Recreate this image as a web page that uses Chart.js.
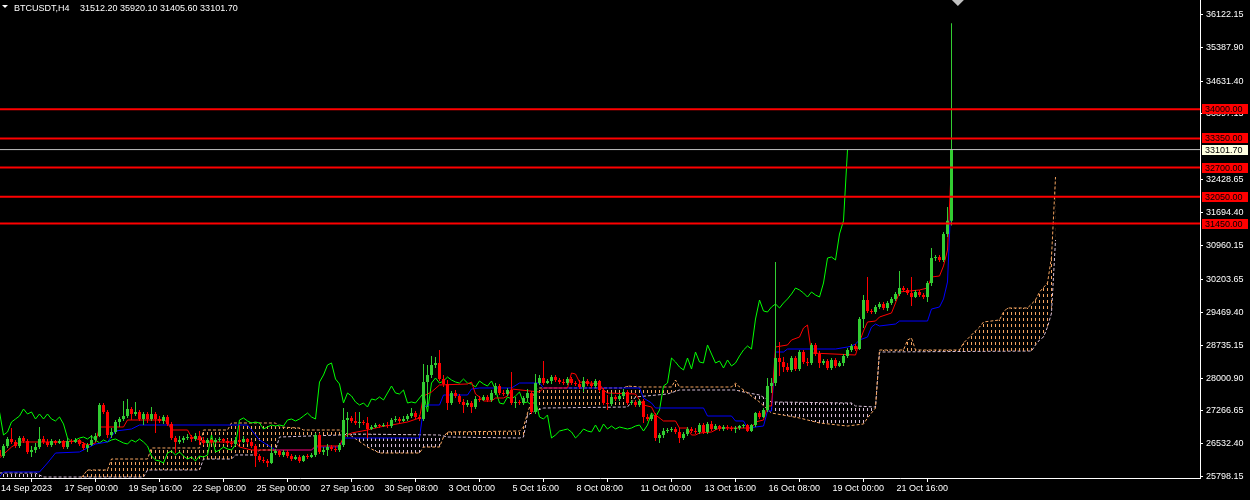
<!DOCTYPE html>
<html>
<head>
<meta charset="utf-8">
<title>BTCUSDT,H4</title>
<script src="https://cdn.jsdelivr.net/npm/chart.js@4.4.1/dist/chart.umd.min.js"></script>
<style>
  html, body { margin: 0; padding: 0; background: #000; }
  #wrap { width: 1250px; height: 500px; }
</style>
</head>
<body>
<div id="wrap"><canvas id="chart" width="1250" height="500"></canvas></div>
<script>
// BTCUSDT H4, 14 Sep -> 24 Oct 2023.
// bar 0 = 14 Sep 08:00, one bar every 4 hours, bar 238 = last (open) bar
const symbol = 'BTCUSDT,H4';

const opens = [
  26394, 26260, 26484, 26640, 26573, 26484, 26662, 26595, 26350, 26394,
  26461, 26640, 26573, 26506, 26595, 26551, 26595, 26461, 26595, 26573,
  26618, 26528, 26439, 26506, 26618, 26707, 27399, 27243, 26729, 26796,
  27019, 27086, 27153, 27310, 27198, 27243, 27086, 27198, 27086, 27198,
  27086, 27042, 27131, 26975, 26662, 26573, 26618, 26662, 26684, 26640,
  26707, 26618, 26551, 26618, 26573, 26618, 26640, 26595, 26551, 26528,
  26618, 26573, 26640, 26573, 26484, 26260, 26171, 26149, 26104, 26327,
  26372, 26283, 26350, 26260, 26193, 26238, 26149, 26260, 26238, 26283,
  26729, 26350, 26394, 26461, 26417, 26394, 26506, 27064, 27109, 27042,
  26997, 27019, 26997, 26863, 26908, 26952, 26930, 26952, 26930, 27064,
  27086, 27042, 27086, 27153, 27220, 27131, 27086, 27912, 28069, 28292,
  28337, 27979, 27868, 27444, 27667, 27600, 27466, 27399, 27444, 27354,
  27533, 27511, 27578, 27511, 27667, 27823, 27667, 27645, 27734, 27444,
  27466, 27444, 27555, 27667, 27243, 27890, 28002, 27890, 27935, 28024,
  27957, 27912, 27890, 27979, 27890, 27868, 27801, 27935, 27868, 27823,
  27935, 27734, 27444, 27421, 27578, 27533, 27600, 27689, 27444, 27466,
  27399, 27488, 27131, 27086, 27176, 26662, 26729, 26818, 26841, 26863,
  26796, 26662, 26751, 26863, 26818, 26796, 26952, 26796, 26975, 26863,
  26930, 26863, 26908, 26885, 26863, 26885, 26930, 26952, 26818, 26952,
  27220, 27131, 27287, 27823, 27890, 28448, 28359, 28247, 28180, 28448,
  28203, 28582, 28359, 28337, 28739, 28537, 28337, 28381, 28225, 28404,
  28270, 28337, 28493, 28627, 28716, 28649, 29319, 29743, 29498, 29475,
  29587, 29654, 29565, 29676, 29766, 29877, 30011, 29967, 29900, 29810,
  29922, 29855, 29810, 30123, 30681, 30703, 30636, 31217, 31512.20
];
const highs = [
  26439, 26528, 26684, 26885, 26618, 26707, 26707, 26640, 26484, 26551,
  26908, 26707, 26640, 26640, 26618, 26640, 26618, 26662, 26640, 26662,
  26640, 26573, 26551, 26729, 26774, 27444, 27444, 27287, 26885, 27064,
  27131, 27488, 27533, 27354, 27466, 27287, 27243, 27243, 27354, 27243,
  27153, 27176, 27176, 27019, 26707, 26707, 26707, 26751, 26729, 26774,
  26818, 26684, 26662, 26640, 26662, 26684, 26662, 26640, 26595, 26684,
  26952, 26707, 26662, 26618, 26528, 26305, 26238, 26193, 26461, 26417,
  26394, 26394, 26394, 26305, 26283, 26283, 26283, 26305, 26327, 26774,
  26774, 26461, 26528, 26506, 26484, 26551, 27332, 27243, 27153, 27243,
  27243, 27064, 27131, 26952, 26997, 26975, 26997, 27019, 27109, 27153,
  27131, 27153, 27198, 27332, 27265, 27176, 28314, 28292, 28493, 28470,
  28627, 28069, 27957, 27712, 27734, 27645, 27533, 27511, 27488, 27600,
  27600, 27622, 27622, 27734, 27890, 27868, 27734, 27779, 28136, 27578,
  27511, 27600, 27756, 27712, 28091, 28069, 28381, 27979, 28069, 28069,
  28002, 27979, 28024, 28024, 27935, 27957, 28024, 27979, 27935, 27979,
  27957, 27779, 27622, 27667, 27622, 27645, 27756, 27734, 27511, 27511,
  27533, 27533, 27198, 27220, 27220, 26774, 26885, 26885, 26908, 26908,
  26885, 26796, 26908, 26908, 26885, 26997, 26997, 27019, 27042, 26975,
  26952, 26952, 26952, 26930, 26930, 26952, 26975, 26975, 26975, 27243,
  27265, 27332, 28002, 28002, 30591, 28805, 28470, 28337, 28493, 28493,
  28627, 28627, 28448, 28783, 28783, 28604, 28426, 28426, 28448, 28448,
  28381, 28537, 28671, 28761, 28761, 29364, 29855, 30257, 29542, 29632,
  29698, 29698, 29721, 29810, 29922, 30391, 30056, 30011, 30257, 29967,
  29967, 29900, 30168, 30904, 30748, 30748, 31262, 31820, 35920.10
];
const lows = [
  26171, 26216, 26439, 26528, 26439, 26439, 26551, 26305, 26238, 26327,
  26417, 26528, 26461, 26461, 26506, 26528, 26417, 26417, 26528, 26551,
  26484, 26394, 26350, 26484, 26573, 26684, 27198, 26662, 26662, 26751,
  26908, 27042, 27109, 27064, 27153, 27042, 26952, 26997, 27042, 26774,
  26997, 26975, 26930, 26618, 26327, 26528, 26551, 26618, 26573, 26595,
  26506, 26506, 26528, 26528, 26528, 26573, 26551, 26506, 26484, 26484,
  26528, 26551, 26528, 26439, 26015, 26126, 26104, 26015, 26082, 26283,
  26238, 26238, 26216, 26149, 26171, 26104, 26126, 26193, 26216, 26238,
  26305, 26283, 26260, 26372, 26350, 26350, 26461, 26684, 26997, 26952,
  26885, 26952, 26662, 26841, 26885, 26885, 26908, 26885, 26885, 27019,
  26997, 27019, 27042, 27109, 27086, 27042, 27042, 27354, 28002, 28225,
  27935, 27801, 27287, 27399, 27555, 27421, 27220, 27354, 27220, 27310,
  27466, 27488, 27466, 27466, 27622, 27622, 27600, 27600, 27399, 27332,
  27399, 27399, 27466, 27198, 27198, 27846, 27846, 27868, 27868, 27912,
  27868, 27846, 27846, 27846, 27823, 27756, 27689, 27823, 27779, 27779,
  27689, 27399, 27287, 27377, 27488, 27488, 27555, 27399, 27399, 27354,
  27354, 26997, 27042, 27042, 26595, 26551, 26662, 26774, 26796, 26751,
  26551, 26618, 26707, 26774, 26751, 26751, 26751, 26751, 26818, 26841,
  26818, 26818, 26841, 26818, 26774, 26841, 26885, 26796, 26796, 26908,
  27086, 27109, 27243, 27667, 27823, 28046, 28136, 28136, 28136, 28158,
  28158, 28314, 28270, 28292, 28493, 28225, 28292, 28180, 28180, 28225,
  28247, 28270, 28448, 28582, 28604, 28627, 29118, 29453, 29431, 29431,
  29542, 29520, 29498, 29632, 29721, 29833, 29922, 29855, 29609, 29788,
  29810, 29766, 29698, 30056, 30614, 30591, 30591, 31150, 31405.60
];
const closes = [
  26260, 26484, 26640, 26573, 26484, 26662, 26595, 26350, 26394, 26461,
  26640, 26573, 26506, 26595, 26551, 26595, 26461, 26595, 26573, 26618,
  26528, 26439, 26506, 26618, 26707, 27399, 27243, 26729, 26796, 27019,
  27086, 27153, 27310, 27198, 27243, 27086, 27198, 27086, 27198, 27086,
  27042, 27131, 26975, 26662, 26573, 26618, 26662, 26684, 26640, 26707,
  26618, 26551, 26618, 26573, 26618, 26640, 26595, 26551, 26528, 26618,
  26573, 26640, 26573, 26484, 26260, 26171, 26149, 26104, 26327, 26372,
  26283, 26350, 26260, 26193, 26238, 26149, 26260, 26238, 26283, 26729,
  26350, 26394, 26461, 26417, 26394, 26506, 27064, 27109, 27042, 26997,
  27019, 26997, 26863, 26908, 26952, 26930, 26952, 26930, 27064, 27086,
  27042, 27086, 27153, 27220, 27131, 27086, 27912, 28069, 28292, 28337,
  27979, 27868, 27444, 27667, 27600, 27466, 27399, 27444, 27354, 27533,
  27511, 27578, 27511, 27667, 27823, 27667, 27645, 27734, 27444, 27466,
  27444, 27555, 27667, 27243, 27890, 28002, 27890, 27935, 28024, 27957,
  27912, 27890, 27979, 27890, 27868, 27801, 27935, 27868, 27823, 27935,
  27734, 27444, 27421, 27578, 27533, 27600, 27689, 27444, 27466, 27399,
  27488, 27131, 27086, 27176, 26662, 26729, 26818, 26841, 26863, 26796,
  26662, 26751, 26863, 26818, 26796, 26952, 26796, 26975, 26863, 26930,
  26863, 26908, 26885, 26863, 26885, 26930, 26952, 26818, 26952, 27220,
  27131, 27287, 27823, 27890, 28448, 28359, 28247, 28180, 28448, 28203,
  28582, 28359, 28337, 28739, 28537, 28337, 28381, 28225, 28404, 28270,
  28337, 28493, 28627, 28716, 28649, 29319, 29743, 29498, 29475, 29587,
  29654, 29565, 29676, 29766, 29877, 30011, 29967, 29900, 29810, 29922,
  29855, 29810, 30123, 30681, 30703, 30636, 31217, 31512, 33101.70
];

// Ichimoku lines: [bar, price] break points
const tenkan = [
  [0, 26216], [3, 26461], [5, 26573], [15, 26573], [20, 26595], [22, 26506], [24, 26551],
  [25, 26908], [31, 26908], [32, 27064], [41, 27064], [42, 27019], [43, 26841], [47, 26841],
  [48, 26684], [50, 26618], [51, 26573], [59, 26573], [60, 26461], [63, 26394], [78, 26394],
  [79, 26484], [85, 26484], [86, 26684], [88, 26774], [92, 26841], [95, 26908], [98, 26952],
  [102, 27019], [105, 27109], [106, 27600], [108, 27689], [110, 27846], [117, 27868],
  [118, 27912], [119, 27645], [120, 27578], [121, 27488], [123, 27488], [124, 27555],
  [126, 27555], [127, 27600], [128, 27756], [135, 27689], [136, 27779], [142, 27779],
  [143, 28113], [144, 28091], [145, 27912], [150, 27868], [151, 27734], [152, 27667],
  [159, 27645], [160, 27511], [161, 27399], [163, 27354], [164, 27176], [166, 27042],
  [169, 27042], [170, 26885], [172, 26885], [173, 26729], [174, 26729], [175, 26774],
  [178, 26796], [179, 26841], [180, 26885], [188, 26885], [189, 27019], [191, 27064],
  [192, 27377], [193, 27377], [194, 28694], [197, 28739], [198, 28850], [200, 28917],
  [201, 29118], [202, 29185], [203, 28560], [214, 28515], [215, 28805], [216, 29051],
  [217, 29252], [219, 29274], [220, 29364], [223, 29453], [224, 29676], [225, 29922],
  [230, 29967], [232, 30011], [233, 30257], [235, 30279], [236, 30503], [237, 30859],
  [238, 32824]
];
const kijun = [
  [0, 25791], [1, 25903], [10, 25903], [12, 26104], [14, 26327], [20, 26350], [22, 26439],
  [24, 26528], [27, 26573], [29, 26818], [33, 26863], [35, 26952], [62, 26952], [63, 26841],
  [65, 26618], [69, 26394], [78, 26394], [79, 26461], [85, 26461], [86, 26662], [105, 26662],
  [106, 27332], [107, 27399], [110, 27399], [111, 27622], [117, 27622], [118, 27756],
  [120, 27779], [128, 27779], [130, 27890], [135, 27890], [136, 27779], [160, 27779],
  [161, 27555], [163, 27444], [164, 27332], [176, 27332], [177, 27153], [183, 27153],
  [184, 27042], [186, 27042], [187, 26885], [191, 26930], [192, 27265], [193, 27265],
  [194, 28582], [196, 28582], [197, 28649], [209, 28649], [212, 28694], [213, 28716],
  [214, 28761], [215, 28850], [217, 28917], [218, 29140], [219, 29207], [220, 29163],
  [224, 29207], [225, 29274], [232, 29274], [233, 29542], [235, 29587], [236, 29766],
  [237, 30145], [238, 32266]
];
const senkouA = [
  [0, 25546], [16, 25546], [20, 25725], [22, 25948], [27, 25948], [28, 26193], [37, 26193],
  [38, 26439], [50, 26439], [51, 26841], [57, 26841], [58, 26997], [69, 26997], [70, 26908],
  [75, 26885], [76, 26841], [85, 26841], [88, 26707], [92, 26461], [95, 26327], [105, 26327],
  [106, 26461], [110, 26461], [111, 26684], [112, 26796], [130, 26818], [131, 26908],
  [132, 27220], [134, 27734], [135, 27779], [156, 27779], [157, 27823], [160, 27801],
  [168, 27801], [169, 27957], [170, 27801], [183, 27801], [184, 27890], [185, 27801],
  [190, 27466], [193, 27220], [200, 27109], [205, 26997], [212, 26930], [216, 26975],
  [217, 27109], [219, 27332], [220, 28627], [226, 28627], [227, 28850], [228, 28895],
  [229, 28627], [240, 28627], [241, 28783], [243, 28962], [245, 29140], [246, 29252],
  [250, 29297], [251, 29475], [252, 29565], [257, 29565], [259, 29743], [260, 29922],
  [262, 30123], [263, 30703], [264, 32489]
];
const senkouB = [
  [0, 25881], [9, 25881], [11, 25791], [36, 25791], [37, 25948], [50, 25948], [51, 26193],
  [58, 26193], [59, 26283], [64, 26283], [65, 26394], [69, 26394], [70, 26684], [85, 26729],
  [88, 26751], [110, 26729], [112, 26684], [130, 26662], [131, 26684], [132, 27176],
  [134, 27265], [136, 27332], [157, 27354], [159, 27578], [167, 27645], [170, 27734],
  [184, 27734], [186, 27689], [190, 27622], [193, 27466], [213, 27444], [214, 27377],
  [219, 27354], [220, 28582], [258, 28604], [259, 28739], [260, 28850], [261, 28917],
  [262, 29140], [263, 29453], [264, 31083]
];
const chikouShift = 26;

// horizontal levels drawn on the chart
const levels = [34000, 33350, 32700, 32050, 31450];

// axes
const yTicks = [36122.15, 35387.90, 34631.40, 33897.15, 32428.65, 31694.40, 30960.15,
  30203.65, 29469.40, 28735.15, 28000.90, 27266.65, 26532.40, 25798.15];
const firstLabel = '14 Sep 2023';
const xTickBars = [16, 32, 48, 64, 80, 96, 112, 128, 144, 160, 176, 192, 208, 224];
const xTickLabels = ['17 Sep 00:00', '19 Sep 16:00', '22 Sep 08:00', '25 Sep 00:00',
  '27 Sep 16:00', '30 Sep 08:00', '3 Oct 00:00', '5 Oct 16:00', '8 Oct 08:00',
  '11 Oct 00:00', '13 Oct 16:00', '16 Oct 08:00', '19 Oct 00:00', '21 Oct 16:00'];

const BULL = '#32cd32';
const BEAR = '#ff0000';
const FONT = '"Liberation Sans", Arial, sans-serif';

Chart.defaults.font.family = FONT;
Chart.defaults.font.size = 9;
Chart.defaults.color = '#ffffff';

// dotted hatch for the cloud, one column per bar
function hatch(color) {
  const c = document.createElement('canvas');
  c.width = 4; c.height = 6;
  const g = c.getContext('2d');
  g.fillStyle = color;
  g.fillRect(3, 0, 1, 3);
  return g.createPattern(c, 'repeat');
}

const last = closes.length - 1;
const barColors = closes.map((c, i) => c >= opens[i] ? BULL : BEAR);
const xMin = 0.125, xMax = 300.125;

const pts = arr => arr.map(p => ({ x: p[0], y: p[1] }));

const datasets = [
  ...levels.map(v => ({
    type: 'line', data: [{ x: xMin, y: v }, { x: xMax, y: v }],
    borderColor: '#ff0000', borderWidth: 2, pointRadius: 0, order: 0
  })),
  {
    type: 'line', data: [{ x: xMin, y: closes[last] }, { x: xMax, y: closes[last] }],
    borderColor: '#c0c0c0', borderWidth: 1, pointRadius: 0, order: 1
  },
  {
    type: 'bar', label: 'body',
    data: closes.map((c, i) => ({ x: i, y: [opens[i], c] })),
    backgroundColor: barColors, grouped: false, categoryPercentage: 1, barPercentage: 0.75,
    minBarLength: 1, order: 2
  },
  {
    type: 'bar', label: 'wick',
    data: highs.map((h, i) => ({ x: i, y: [lows[i], h] })),
    backgroundColor: barColors, grouped: false, categoryPercentage: 1, barPercentage: 0.25,
    order: 3
  },
  {
    type: 'line', label: 'Tenkan-sen', data: pts(tenkan),
    borderColor: '#ff0000', borderWidth: 1, pointRadius: 0, order: 4
  },
  {
    type: 'line', label: 'Kijun-sen', data: pts(kijun),
    borderColor: '#0000ff', borderWidth: 1, pointRadius: 0, order: 5
  },
  {
    type: 'line', label: 'Chikou Span',
    data: closes.slice(chikouShift).map((c, k) => ({ x: k, y: c })),
    borderColor: '#00ff00', borderWidth: 1, pointRadius: 0, order: 6
  },
  {
    type: 'line', label: 'Senkou Span A', data: pts(senkouA),
    borderColor: '#f4a460', borderWidth: 1, borderDash: [3, 2], pointRadius: 0, order: 7,
    fill: { target: '+1', above: hatch('#f4a460'), below: hatch('#d8bfd8') }
  },
  {
    type: 'line', label: 'Senkou Span B', data: pts(senkouB),
    borderColor: '#d8bfd8', borderWidth: 1, borderDash: [3, 2], pointRadius: 0, order: 8
  }
];

const overlay = {
  id: 'overlay',
  afterDraw(chart) {
    const { ctx, chartArea, scales: { y } } = chart;
    ctx.save();
    // header
    ctx.fillStyle = '#ffffff';
    ctx.beginPath();
    ctx.moveTo(2, 5); ctx.lineTo(8, 5); ctx.lineTo(5, 8); ctx.closePath();
    ctx.fill();
    ctx.font = '9px ' + FONT;
    ctx.textBaseline = 'alphabetic';
    ctx.textAlign = 'left';
    ctx.fillText(symbol, 14, 11);
    ctx.fillText([opens[last], highs[last], lows[last], closes[last]].map(v => v.toFixed(2)).join(' '), 80, 11);

    // price tags on the scale
    const tag = (v, bg) => {
      const py = Math.round(y.getPixelForValue(v));
      ctx.fillStyle = bg;
      ctx.fillRect(chartArea.right + 2, py - 5, 46, 10);
      ctx.fillStyle = '#000000';
      ctx.textBaseline = 'middle';
      ctx.fillText(v.toFixed(2), chartArea.right + 5, py + 0.5);
    };
    levels.forEach(v => tag(v, '#ff0000'));
    tag(closes[last], '#ffffe0');

    // chart shift marker
    const sx = chart.scales.x.getPixelForValue(last + 1.6);
    ctx.fillStyle = '#c0c0c0';
    ctx.beginPath();
    ctx.moveTo(sx - 6, 0); ctx.lineTo(sx + 6, 0); ctx.lineTo(sx, 6); ctx.closePath();
    ctx.fill();
    ctx.restore();
  }
};

new Chart(document.getElementById('chart'), {
  type: 'bar',
  data: { datasets },
  options: {
    responsive: false,
    animation: false,
    devicePixelRatio: 1,
    layout: { padding: 0 },
    plugins: { legend: { display: false }, tooltip: { enabled: false } },
    scales: {
      x: {
        type: 'linear', min: xMin, max: xMax, offset: false,
        grid: { display: true, drawOnChartArea: false, drawTicks: true, tickLength: 4, color: '#ffffff' },
        border: { display: true, color: '#ffffff', width: 1 },
        ticks: {
          autoSkip: false, maxRotation: 0, minRotation: 0, align: 'start', padding: 1, labelOffset: 1,
          color: '#ffffff', font: { size: 9 },
          callback: (v, i) => i === 0 ? firstLabel : xTickLabels[i - 1]
        },
        afterBuildTicks: s => { s.ticks = [{ value: xMin }, ...xTickBars.map(v => ({ value: v }))]; },
        afterFit: s => { s.height = 22; s.paddingLeft = 0; s.paddingRight = 0; }
      },
      y: {
        type: 'linear', position: 'right', min: 25769, max: 36441.4,
        grid: { display: true, drawOnChartArea: false, drawTicks: true, tickLength: 3, color: '#ffffff' },
        border: { display: true, color: '#ffffff', width: 1 },
        ticks: {
          autoSkip: false, padding: 3, color: '#ffffff', font: { size: 9 },
          callback: v => v.toFixed(2)
        },
        afterBuildTicks: s => { s.ticks = yTicks.map(v => ({ value: v })); },
        afterFit: s => { s.width = 50; s.paddingTop = 0; s.paddingBottom = 0; }
      }
    }
  },
  plugins: [overlay]
});
</script>
</body>
</html>
